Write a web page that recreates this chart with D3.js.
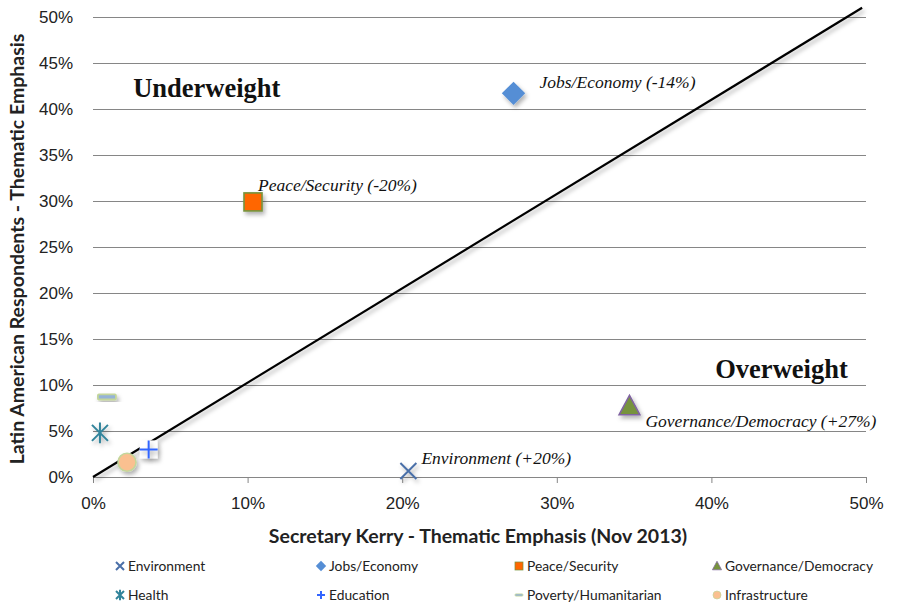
<!DOCTYPE html>
<html>
<head>
<meta charset="utf-8">
<script src="https://cdn.jsdelivr.net/npm/d3@7"></script>
<style>
  body { margin: 0; background: #fff; }
  svg { font-family: "Lato", "Open Sans", sans-serif; }
  .tick text { font-size: 17px; fill: #222; }
  .annot { font-family: "Liberation Serif", serif; font-style: italic; font-size: 17.5px; fill: #111; }
  .zone { font-family: "Liberation Serif", serif; font-weight: bold; font-size: 26.5px; fill: #111; }
  .axis-title { font-weight: bold; font-size: 19.5px; fill: #222; }
  .legend-label { font-size: 13.8px; fill: #222; }
</style>
</head>
<body>
<svg id="chart"></svg>
<script>
// topics, x = Secretary Kerry emphasis, y = Latin American respondents emphasis
const topics = ["Environment", "Jobs/Economy", "Peace/Security", "Governance/Democracy",
                "Health", "Education", "Poverty/Humanitarian", "Infrastructure"];
const kerryShare = [0.204, 0.272, 0.1035, 0.347, 0.0045, 0.036, 0.009, 0.022];
const latamShare = [0.0065, 0.417, 0.299, 0.077, 0.048, 0.030, 0.087, 0.016];
const gapLabels = ["Environment (+20%)", "Jobs/Economy (-14%)", "Peace/Security (-20%)",
                   "Governance/Democracy (+27%)", null, null, null, null];
const refLine = [[0, 0], [0.4975, 0.51]];
const xTicks = [0, 0.1, 0.2, 0.3, 0.4, 0.5];
const yTicks = [0, 0.05, 0.1, 0.15, 0.2, 0.25, 0.3, 0.35, 0.4, 0.45, 0.5];

const W = 900, H = 612;
const margin = { top: 17, right: 34, bottom: 135, left: 93 };
const width = W - margin.left - margin.right;
const height = H - margin.top - margin.bottom;

const root = d3.select("#chart").attr("width", W).attr("height", H);

const defs = root.append("defs");
const f = defs.append("filter").attr("id", "shadow")
  .attr("x", "-50%").attr("y", "-50%").attr("width", "200%").attr("height", "200%");
f.append("feDropShadow").attr("dx", 2).attr("dy", 3).attr("stdDeviation", 2)
  .attr("flood-color", "#000").attr("flood-opacity", 0.3);

const svg = root.append("g").attr("transform", `translate(${margin.left},${margin.top})`);

const x = d3.scaleLinear().domain([0, 0.5]).range([0, width]);
const y = d3.scaleLinear().domain([0, 0.5]).range([height, 0]);
const pct = d3.format(".0%");

// gridlines / y axis
const yAxis = svg.append("g")
  .call(d3.axisLeft(y).tickValues(yTicks).tickFormat(pct).tickSize(-width).tickPadding(20));
yAxis.select(".domain").remove();
yAxis.selectAll(".tick line").attr("stroke", "#868686");

// x axis
const xAxis = svg.append("g").attr("transform", `translate(0,${height})`)
  .call(d3.axisBottom(x).tickValues(xTicks).tickFormat(pct).tickSize(6).tickSizeOuter(0).tickPadding(14));
xAxis.select(".domain").attr("stroke", "#868686");
xAxis.selectAll(".tick line").attr("stroke", "#868686");

// reference diagonal
svg.append("path")
  .datum(refLine)
  .attr("fill", "none")
  .attr("stroke", "#000")
  .attr("stroke-width", 2.2)
  .attr("filter", "url(#shadow)")
  .attr("d", d3.line().x(d => x(d[0])).y(d => y(d[1])));

// zone labels
svg.append("text").attr("class", "zone").attr("x", x(0.026)).attr("y", y(0.4135)).text("Underweight");
svg.append("text").attr("class", "zone").attr("x", x(0.4025)).attr("y", y(0.108)).text("Overweight");

// marker drawing
function drawMarker(g, name, s) {
  const k = s;
  switch (name) {
    case "Environment":
      g.append("path").attr("d", `M${-k},${-k}L${k},${k}M${-k},${k}L${k},${-k}`)
        .attr("stroke", "#4A6FA8").attr("stroke-width", 2).attr("fill", "none");
      break;
    case "Jobs/Economy":
      g.append("path").attr("d", `M0,${-k * 1.3}L${k * 1.3},0L0,${k * 1.3}L${-k * 1.3},0Z`)
        .attr("fill", "#558ED5");
      break;
    case "Peace/Security":
      g.append("rect").attr("x", -k).attr("y", -k).attr("width", 2 * k).attr("height", 2 * k)
        .attr("fill", "#FF6600").attr("stroke", "#77933C").attr("stroke-width", k * 0.18);
      break;
    case "Governance/Democracy":
      g.append("path").attr("d", `M0,${-k * 1.2}L${k * 1.15},${k * 0.95}L${-k * 1.15},${k * 0.95}Z`)
        .attr("fill", "#77933C").attr("stroke", "#8064A2").attr("stroke-width", k * 0.18);
      break;
    case "Health":
      g.append("path").attr("d", `M${-k},${-k}L${k},${k}M${-k},${k}L${k},${-k}M0,${-k * 1.3}L0,${k * 1.3}`)
        .attr("stroke", "#31849B").attr("stroke-width", 2).attr("fill", "none");
      break;
    case "Education":
      g.append("path").attr("d", `M${-k},0L${k},0M0,${-k}L0,${k}`)
        .attr("stroke", "#3366FF").attr("stroke-width", 2).attr("fill", "none");
      break;
    case "Poverty/Humanitarian":
      g.append("rect").attr("x", -k).attr("y", -k * 0.28).attr("width", 2 * k).attr("height", k * 0.56)
        .attr("rx", 1).attr("fill", "#95B3D7").attr("stroke", "#C3D69B").attr("stroke-width", k * 0.2);
      break;
    case "Infrastructure":
      g.append("circle").attr("r", k).attr("fill", "#FAC090")
        .attr("stroke", "#C3D69B").attr("stroke-width", k * 0.18);
      break;
  }
}

const points = topics.map((t, i) => ({ name: t, kx: kerryShare[i], ly: latamShare[i], label: gapLabels[i] }));

// white box behind education plus (as in the original)
const edu = points.find(p => p.name === "Education");
svg.append("rect")
  .attr("x", x(edu.kx) - 9).attr("y", y(edu.ly) - 9)
  .attr("width", 18).attr("height", 18)
  .attr("fill", "#fff").attr("filter", "url(#shadow)");

points.forEach(p => {
  const g = svg.append("g")
    .attr("transform", `translate(${x(p.kx)},${y(p.ly)})`)
    .attr("filter", "url(#shadow)");
  const size = p.name === "Environment" ? 8 : p.name === "Health" ? 8 : 9;
  drawMarker(g, p.name, size);
});

const labelOffset = {
  "Environment": [13, -7],
  "Jobs/Economy": [26, -5],
  "Peace/Security": [5, -11],
  "Governance/Democracy": [16, 21]
};
svg.selectAll(".annot").data(points.filter(p => p.label)).join("text")
  .attr("class", "annot")
  .attr("x", d => x(d.kx) + labelOffset[d.name][0])
  .attr("y", d => y(d.ly) + labelOffset[d.name][1])
  .text(d => d.label);

// axis titles
svg.append("text").attr("class", "axis-title")
  .attr("text-anchor", "middle")
  .attr("x", 385).attr("y", height + 66)
  .text("Secretary Kerry - Thematic Emphasis (Nov 2013)");

svg.append("text").attr("class", "axis-title")
  .attr("text-anchor", "middle")
  .attr("transform", "rotate(-90)")
  .attr("x", -height / 2 - 2).attr("y", -69)
  .text("Latin American Respondents - Thematic Emphasis");

// legend
const legendCols = [120, 321, 519, 717];
const legendRows = [566, 595];
const legend = root.append("g");
topics.forEach((t, i) => {
  const cx = legendCols[i % 4], cy = legendRows[Math.floor(i / 4)];
  const g = legend.append("g").attr("transform", `translate(${cx},${cy})`);
  drawMarker(g, t, 4);
  g.append("text").attr("class", "legend-label")
    .attr("x", 8).attr("y", 5).text(t);
});
</script>
</body>
</html>
